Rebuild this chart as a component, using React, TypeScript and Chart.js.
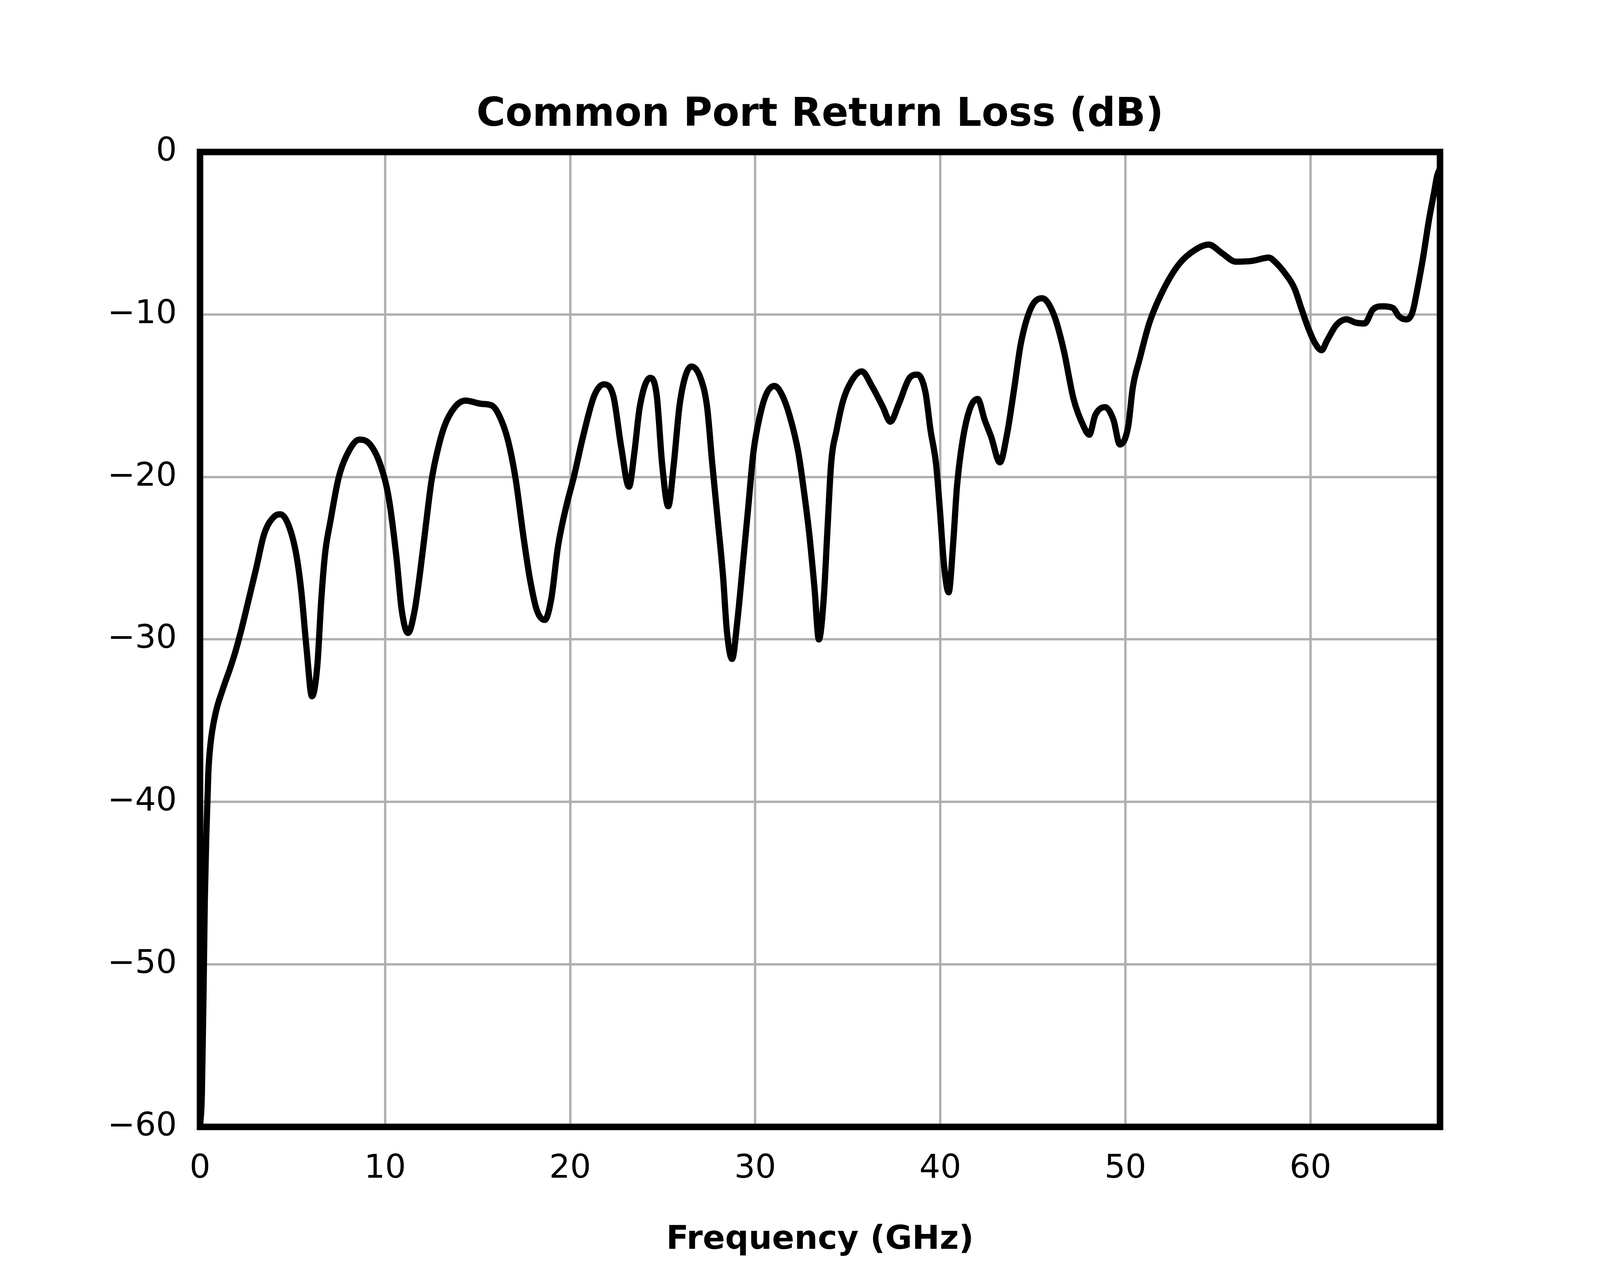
import { useEffect, useRef } from "react"
import { Chart, registerables, type Plugin } from "chart.js"

Chart.register(...registerables)

const FONT = "'DejaVu Sans', sans-serif"
// the reference page is 5400 x 3240; positions below are in those pixels and get scaled to the window
const REF_W = 5400
const REF_H = 3240

const chartTitle = "Common Port Return Loss (dB)"
const xAxisLabel = "Frequency (GHz)"

const freqGHz = [
  0, 0.1, 0.2, 0.26, 0.35, 0.45, 0.56, 0.83, 1.25, 1.62, 1.9, 2.19, 2.62, 3.04, 3.47, 4.05, 4.34, 4.76, 5.19,
  5.47, 5.76, 6.05, 6.34, 6.55, 6.76, 7.05, 7.48, 7.91, 8.62, 9.19, 9.76, 10.2, 10.62, 10.9, 11.24, 11.6,
  11.9, 12.2, 12.5, 12.77, 13.2, 13.77, 14.34, 15.2, 15.77, 16.2, 16.63, 17.05, 17.48, 17.83, 18.2, 18.63,
  18.98, 19.34, 19.77, 20.2, 20.7, 21.3, 21.82, 22.33, 22.75, 23.18, 23.47, 23.76, 24.33, 24.68, 24.97, 25.3,
  25.6, 25.9, 26.2, 26.55, 27.04, 27.4, 27.68, 27.97, 28.26, 28.47, 28.75, 29.04, 29.33, 29.62, 29.9, 30.26,
  30.6, 31.04, 31.47, 31.9, 32.33, 32.6, 32.9, 33.2, 33.44, 33.7, 33.9, 34.1, 34.4, 34.75, 35.2, 35.76, 36.3,
  36.9, 37.3, 37.76, 38.34, 38.76, 39.2, 39.47, 39.77, 39.97, 40.2, 40.45, 40.7, 40.9, 41.2, 41.6, 42.02,
  42.4, 42.74, 43.22, 43.6, 44.0, 44.35, 44.9, 45.5, 46.13, 46.67, 47.2, 47.75, 48.05, 48.37, 48.9, 49.36,
  49.7, 50.15, 50.4, 50.78, 51.3, 52.0, 52.9, 53.8, 54.5, 55.25, 55.96, 56.86, 57.76, 58.03, 58.65, 59.14,
  59.5, 59.87, 60.24, 60.6, 60.9, 61.4, 61.95, 62.44, 62.93, 63.37, 63.9, 64.46, 64.77, 65.14, 65.5, 65.8,
  66.1, 66.4, 66.67, 66.85, 67.0,
]

const returnLossDb = [
  -60, -58, -51, -46, -41.7, -38.2, -36.5, -34.6, -33.0, -31.8, -30.8, -29.6, -27.6, -25.6, -23.5, -22.4,
  -22.3, -22.9, -24.7, -27.0, -30.6, -33.5, -31.6, -27.6, -24.7, -22.7, -20.1, -18.7, -17.7, -18.0, -19.3,
  -21.3, -25.0, -28.2, -29.6, -28.2, -25.8, -23.0, -20.3, -18.7, -16.9, -15.7, -15.3, -15.5, -15.6, -16.3,
  -17.7, -20.1, -23.7, -26.3, -28.2, -28.8, -27.5, -24.3, -21.9, -20.0, -17.5, -15.0, -14.3, -15.0, -18.1,
  -20.6, -18.5, -15.7, -13.9, -15.0, -19.2, -21.8, -19.2, -15.7, -13.9, -13.2, -13.9, -15.7, -19.2, -22.6,
  -26.1, -29.5, -31.2, -28.8, -25.4, -21.9, -18.5, -16.2, -14.9, -14.4, -15.0, -16.4, -18.5, -20.6, -23.3,
  -26.8, -30.0, -27.5, -23.3, -19.2, -17.1, -15.3, -14.1, -13.5, -14.4, -15.7, -16.6, -15.5, -13.9, -13.7,
  -14.8, -17.1, -19.2, -21.9, -25.4, -27.1, -24.0, -20.6, -17.8, -15.8, -15.2, -16.5, -17.5, -19.1, -17.4,
  -14.5, -11.8, -9.6, -9.0, -10.0, -12.2, -15.2, -16.9, -17.4, -16.2, -15.7, -16.5, -18.0, -16.9, -14.5,
  -12.7, -10.5, -8.6, -6.9, -6.0, -5.7, -6.25, -6.75, -6.7, -6.5, -6.7, -7.5, -8.4, -9.6, -10.8, -11.75,
  -12.2, -11.6, -10.65, -10.3, -10.5, -10.55, -9.7, -9.5, -9.6, -10.1, -10.3, -9.9, -8.3, -6.4, -4.2, -2.55,
  -1.45, -1.0,
]

const xTicks = [0, 10, 20, 30, 40, 50, 60]
const yTicks = [0, -10, -20, -30, -40, -50, -60]

const frameAndTitles: Plugin<"line"> = {
  id: "frameAndTitles",
  afterDatasetsDraw(chart) {
    const { ctx, chartArea: a } = chart
    const s = chart.width / REF_W
    ctx.save()
    ctx.strokeStyle = "#000000"
    ctx.lineWidth = 22 * s
    ctx.lineJoin = "miter"
    ctx.strokeRect(a.left, a.top, a.right - a.left, a.bottom - a.top)
    ctx.restore()
  },
  afterDraw(chart) {
    const { ctx, chartArea: a } = chart
    const s = chart.width / REF_W
    const ky = chart.height / REF_H
    const cx = (a.left + a.right) / 2
    ctx.save()
    ctx.fillStyle = "#000000"
    ctx.textAlign = "center"
    ctx.textBaseline = "alphabetic"
    ctx.font = `bold ${133 * s}px ${FONT}`
    ctx.fillText(chartTitle, cx, 322 * ky)
    ctx.font = `bold ${111 * s}px ${FONT}`
    ctx.fillText(xAxisLabel, cx, 3196 * ky)
    ctx.restore()
  },
}

function ReturnLossChart() {
  const chartRef = useRef<HTMLCanvasElement>(null)

  useEffect(() => {
    if (!chartRef.current) return
    const ctx = chartRef.current.getContext("2d")
    if (!ctx) return

    const s = window.innerWidth / REF_W
    const ky = window.innerHeight / REF_H

    const points = freqGHz.map((f, i) => ({ x: f, y: returnLossDb[i] }))

    const chart = new Chart(ctx, {
      type: "line",
      data: {
        datasets: [
          {
            data: points,
            borderColor: "#000000",
            borderWidth: 21 * s,
            pointRadius: 0,
            cubicInterpolationMode: "monotone",
            fill: false,
          },
        ],
      },
      options: {
        responsive: true,
        maintainAspectRatio: false,
        animation: false,
        layout: { padding: { left: 0, right: 540 * s, top: 389 * ky, bottom: 0 } },
        plugins: {
          legend: { display: false },
          title: { display: false },
          tooltip: { enabled: false },
        },
        scales: {
          x: {
            type: "linear",
            min: 0,
            max: 67,
            afterBuildTicks: (scale) => {
              scale.ticks = xTicks.map((value) => ({ value }))
            },
            afterFit: (scale) => {
              scale.height = 356 * ky
            },
            border: { display: false },
            grid: { color: "#b0b0b0", lineWidth: 8 * s, drawTicks: false },
            ticks: {
              padding: 58 * ky,
              color: "#000000",
              font: { family: FONT, size: 111 * s },
              maxRotation: 0,
              callback: (v) => String(v),
            },
          },
          y: {
            type: "linear",
            min: -60,
            max: 0,
            afterBuildTicks: (scale) => {
              scale.ticks = yTicks.map((value) => ({ value }))
            },
            afterFit: (scale) => {
              scale.width = 675 * s
            },
            border: { display: false },
            grid: { color: "#b0b0b0", lineWidth: 8 * s, drawTicks: false },
            ticks: {
              padding: 78 * s,
              color: "#000000",
              font: { family: FONT, size: 111 * s },
              callback: (v) => String(v).replace("-", "\u2212"),
            },
          },
        },
      },
      plugins: [frameAndTitles],
    })

    return () => chart.destroy()
  }, [])

  return (
    <div style={{ position: "fixed", left: 0, top: 0, width: "100vw", height: "100vh", background: "#ffffff" }}>
      <canvas ref={chartRef} />
    </div>
  )
}

export default function App() {
  return <ReturnLossChart />
}
